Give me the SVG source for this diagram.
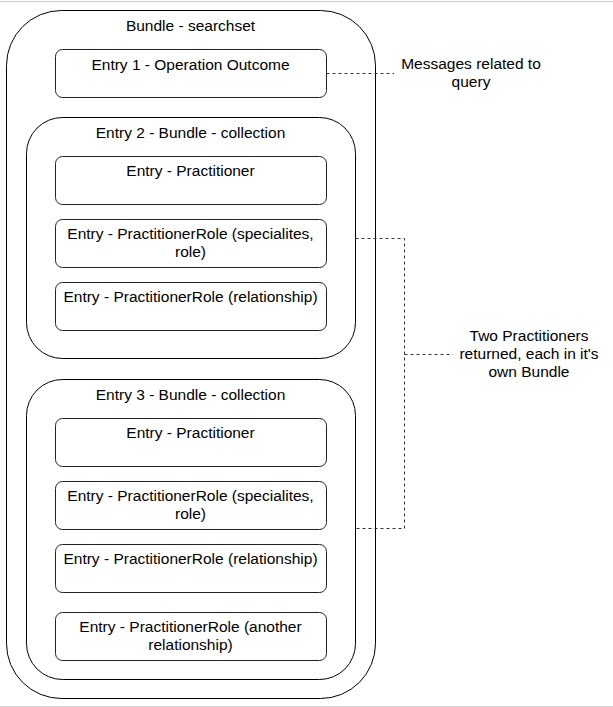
<svg xmlns="http://www.w3.org/2000/svg" width="613" height="707" viewBox="0 0 613 707">
<style>
.box{fill:#fff;stroke:#000;stroke-width:1}
.entry{fill:#fff;stroke:#222;stroke-width:1}
text{font-family:"Liberation Sans",Arial,sans-serif;font-size:15.5px;fill:#000;text-anchor:middle}
.conn{fill:none;stroke:#333;stroke-width:1;stroke-dasharray:3 3}
.frame{stroke:#d0d0d0;stroke-width:1}
</style>
<rect width="613" height="707" fill="#fff"/>
<line class="frame" x1="0" y1="1.5" x2="613" y2="1.5"/>
<line class="frame" x1="0" y1="706.5" x2="613" y2="706.5"/>
<g id="bundle-searchset">
<rect class="box" x="6.5" y="10.5" width="369" height="688" rx="55" ry="55"/>
<text x="190.5" y="31">Bundle - searchset</text>
</g>
<g id="entry1">
<rect class="entry" x="55.5" y="49.5" width="271" height="48" rx="7" ry="7"/>
<text x="190.5" y="69.5">Entry 1 - Operation Outcome</text>
</g>
<g id="entry2-bundle">
<rect class="box" x="26.5" y="117.5" width="329" height="241" rx="36" ry="36"/>
<text x="190.5" y="138">Entry 2 - Bundle - collection</text>
</g>
<g id="entry2-practitioner">
<rect class="entry" x="55.5" y="156.5" width="271" height="48" rx="7" ry="7"/>
<text x="190.5" y="176">Entry - Practitioner</text>
</g>
<g id="entry2-role-specialites">
<rect class="entry" x="55.5" y="219.5" width="271" height="48" rx="7" ry="7"/>
<text x="190.5" y="239">Entry - PractitionerRole (specialites,</text>
<text x="190.5" y="257">role)</text>
</g>
<g id="entry2-role-relationship">
<rect class="entry" x="55.5" y="282.5" width="271" height="48" rx="7" ry="7"/>
<text x="190.5" y="302">Entry - PractitionerRole (relationship)</text>
</g>
<g id="entry3-bundle">
<rect class="box" x="26.5" y="379.5" width="329" height="300" rx="36" ry="36"/>
<text x="190.5" y="400">Entry 3 - Bundle - collection</text>
</g>
<g id="entry3-practitioner">
<rect class="entry" x="55.5" y="418.5" width="271" height="48" rx="7" ry="7"/>
<text x="190.5" y="438">Entry - Practitioner</text>
</g>
<g id="entry3-role-specialites">
<rect class="entry" x="55.5" y="481.5" width="271" height="48" rx="7" ry="7"/>
<text x="190.5" y="501">Entry - PractitionerRole (specialites,</text>
<text x="190.5" y="519">role)</text>
</g>
<g id="entry3-role-relationship">
<rect class="entry" x="55.5" y="544.5" width="271" height="48" rx="7" ry="7"/>
<text x="190.5" y="564">Entry - PractitionerRole (relationship)</text>
</g>
<g id="entry3-role-another">
<rect class="entry" x="55.5" y="612.5" width="271" height="48" rx="7" ry="7"/>
<text x="190.5" y="632">Entry - PractitionerRole (another</text>
<text x="190.5" y="650">relationship)</text>
</g>
<g id="note-messages">
<text x="471" y="69">Messages related to</text>
<text x="471" y="87">query</text>
</g>
<g id="note-practitioners">
<text x="529" y="341">Two Practitioners</text>
<text x="529" y="359">returned, each in it's</text>
<text x="529" y="377">own Bundle</text>
</g>
<g id="connectors">
<path class="conn" d="M326.5 73.5 H394"/>
<path class="conn" d="M355.5 238.5 H404.5 V528.5 H355.5"/>
<path class="conn" d="M404.5 354.5 H453"/>
</g>
</svg>
